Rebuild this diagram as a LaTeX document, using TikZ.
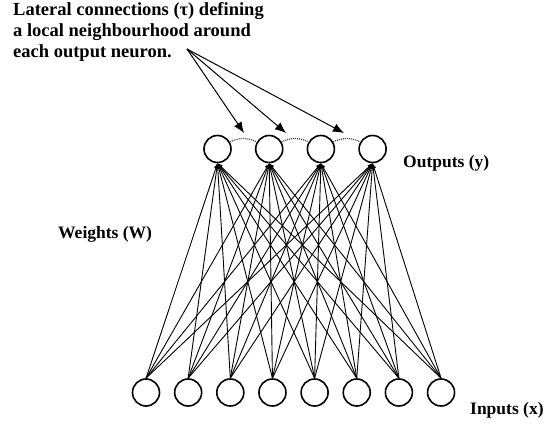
\documentclass[tikz,border=0pt]{standalone}
\usepackage{fontspec}
\setmainfont{Liberation Serif}
\usepackage{tikz}
\usetikzlibrary{arrows.meta}

\begin{document}
\begin{tikzpicture}[x=1pt,y=1pt]
\tikzstyle{neuron} = [circle, draw, line width=1.6pt, minimum size=27pt, inner sep=0pt]
\tikzstyle{weight} = [line width=0.9pt, -{Latex[length=5pt,width=4.5pt]}]
\tikzstyle{lateral} = [line width=1.2pt, dash pattern=on 1pt off 1pt, black!75]
\tikzstyle{pointer} = [line width=1pt, -{Latex[length=11pt,width=9pt]}]
\tikzstyle{lbl} = [font=\fontsize{17.5}{21}\selectfont\bfseries, inner sep=0pt]
\useasboundingbox (0,0) rectangle (546,426);
% neurons
\foreach \j in {1,...,4}
    \node[neuron] (out\j) at ({217.5+51.7*(\j-1)},277) {};
\foreach \i in {1,...,8}
    \node[neuron] (in\i) at ({146+42.15*(\i-1)},33.5) {};
% weights
\foreach \i in {1,...,8}
    \foreach \j in {1,...,4}
        \draw[weight] (in\i.north) -- (out\j.south);
% lateral connections
\draw[lateral] (out1.30) to[bend left=25] (out2.150);
\draw[lateral] (out2.30) to[bend left=25] (out3.150);
\draw[lateral] (out3.30) to[bend left=25] (out4.150);
% labels
\node[lbl, font=\fontsize{18.5}{21}\selectfont\bfseries, anchor=north west, align=left] (title) at (13,424)
    {Lateral connections (τ) defining\\a local neighbourhood around\\each output neuron.};
\node[lbl, anchor=west] (outlbl) at (403,263) {Outputs (y)};
\node[lbl, anchor=west] (inlbl) at (470,16) {Inputs (x)};
\node[lbl, anchor=west] (wlbl) at (58,192) {Weights (W)};
\coordinate (src) at (187,377);
\coordinate (tip1) at (244,293);
\coordinate (tip2) at (286,293);
\coordinate (tip3) at (344,293);
\foreach \k in {1,2,3}
    \draw[pointer] (src) -- (tip\k);
\end{tikzpicture}
\end{document}
